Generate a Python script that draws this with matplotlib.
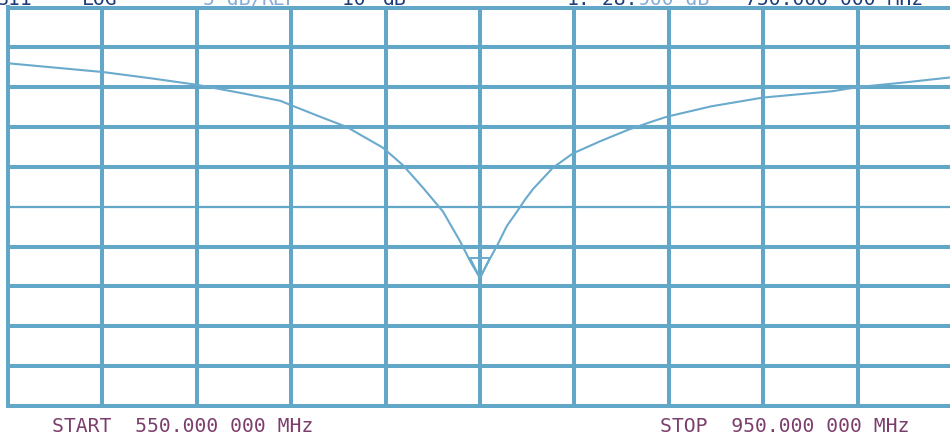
import numpy as np
import matplotlib
matplotlib.use("Agg")
import matplotlib.pyplot as plt
from matplotlib.transforms import offset_copy

# S11 log-magnitude sweep, 550-950 MHz
freq_mhz = [550.0, 590.3, 611.0, 630.1, 650.0, 665.3, 670.3, 682.2, 693.6,
            708.9, 717.4, 725.8, 734.3, 741.5, 745.8, 748.7, 750.0, 754.2,
            757.2, 761.4, 765.7, 769.1, 772.4, 780.9, 789.4, 800.8, 812.3,
            822.0, 829.2, 848.0, 869.9, 899.5, 909.7, 930.0, 950.0]
s11_db = [-2.0, -3.1, -3.9, -4.7, -5.8, -6.7, -7.3, -8.7, -10.0,
          -12.6, -14.8, -17.6, -20.6, -24.3, -26.8, -28.3, -28.9, -26.5,
          -24.9, -22.4, -20.6, -19.1, -17.8, -15.1, -13.3, -11.8, -10.4,
          -9.4, -8.7, -7.4, -6.3, -5.5, -5.0, -4.4, -3.75]

# Display settings
start_mhz, stop_mhz = 550.0, 950.0
scale_db = 5.0
ref_db = -10.0
top_db = 5.0
n_div = 10
marker_mhz = 750.0

x_ticks = np.linspace(start_mhz, stop_mhz, n_div + 1)
y_ticks = np.linspace(top_db - n_div * scale_db, top_db, n_div + 1)

GRID = "#62a6c8"
TRACE = "#6aaacd"
PURPLE = "#7b3d6b"
NAVY = "#1d3d78"
LIGHT = "#86acd6"

W, H = 950, 439
fig = plt.figure(figsize=(W / 100, H / 100), dpi=100)
fig.patch.set_facecolor("white")

# graticule area in pixel terms
left_px, top_px, right_px, bottom_px = 8, 8.5, 952, 407
ax = fig.add_axes([left_px / W, 1 - bottom_px / H,
                   (right_px - left_px) / W, (bottom_px - top_px) / H])
ax.set_xlim(start_mhz, stop_mhz)
ax.set_ylim(y_ticks[0], y_ticks[-1])
ax.set_facecolor("white")

for spine in ax.spines.values():
    spine.set_color(GRID)
    spine.set_linewidth(2.9)

center_db = y_ticks[n_div // 2]
for xv in x_ticks[1:-1]:
    ax.axvline(xv, color=GRID, lw=2.9, zorder=1)
for yv in y_ticks[1:-1]:
    ax.axhline(yv, color=GRID, lw=1.6 if yv == center_db else 2.9, zorder=1)

ax.set_xticks([])
ax.set_yticks([])

# measured trace
ax.plot(freq_mhz, s11_db, color=TRACE, lw=1.5, zorder=3,
        solid_joinstyle="round")

# marker 1 at the resonance
mk_idx = freq_mhz.index(marker_mhz)
mk_db = s11_db[mk_idx]
ms = 14
tri_tr = offset_copy(ax.transData, fig=fig, y=ms / 2, units="points")
ax.plot([marker_mhz], [mk_db], marker="v", ms=ms, mfc="none", mec=TRACE,
        mew=1.4, transform=tri_tr, zorder=4)
lbl_tr = offset_copy(ax.transData, fig=fig, y=ms + 9, units="points")
ax.text(marker_mhz, mk_db, "1", transform=lbl_tr, color=TRACE, fontsize=7,
        ha="center", va="center", family="DejaVu Sans Mono", zorder=4)

mono = dict(family="DejaVu Sans Mono", fontsize=14.2)


def ftext(xpx, ypx, s, color, **kw):
    fig.text(xpx / W, 1 - ypx / H, s, color=color, ha="left",
             va="baseline", **mono, **kw)


# header line (runs off the top edge of the screen)
hdr_y = 5
ftext(-3, hdr_y, "S11", NAVY)
ftext(82, hdr_y, "LOG", NAVY)
ftext(203, hdr_y, f"{scale_db:g} dB/", LIGHT)
ftext(262, hdr_y, "REF", LIGHT)
ftext(331, hdr_y, f"{ref_db:g}", NAVY)
ftext(383, hdr_y, "dB", NAVY)
mk_str = f"{mk_db:.3f}"
head, tail = mk_str[:4], mk_str[4:]
ftext(567, hdr_y, "1:", NAVY)
ftext(591, hdr_y, head, NAVY)
ftext(591 + 11.8 * len(head), hdr_y, tail + " dB", LIGHT)
ftext(745, hdr_y, f"{marker_mhz:.3f} 000 MHz", NAVY)

# start / stop annotations
ftext(52, 432, f"START  {start_mhz:.3f} 000 MHz", PURPLE)
ftext(660, 432, f"STOP  {stop_mhz:.3f} 000 MHz", PURPLE)

fig.savefig("out.png", dpi=100, facecolor="white")
